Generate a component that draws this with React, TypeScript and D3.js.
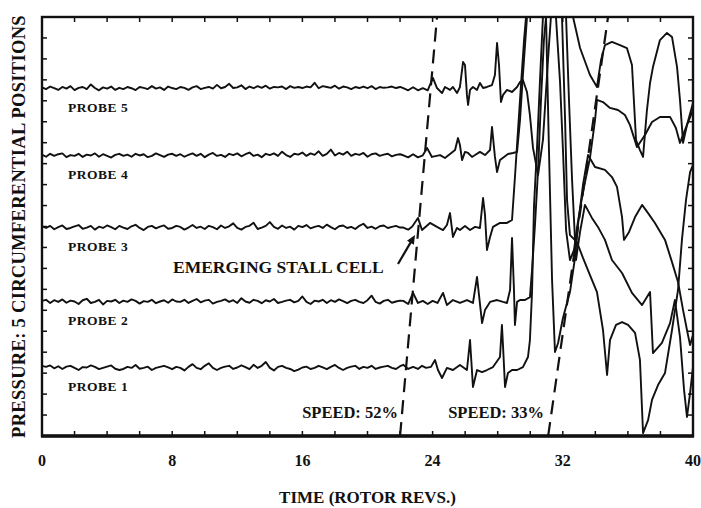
import { useRef, useEffect } from "react";
import * as d3 from "d3";

// probe labels, bottom to top, and their mean pressure level (arbitrary units)
const probeNames = ["PROBE 1", "PROBE 2", "PROBE 3", "PROBE 4", "PROBE 5"];
const baselines = [3.25, 6.4, 9.93, 13.37, 16.56];
const xTicks = [0, 8, 16, 24, 32, 40];
const NOISE_END = 22; // revs covered by the quiet (pre-stall) samples

// quiet part: deviation from baseline, evenly sampled over 0..22 revs
const noiseP1 = [0.1,0.05,0.12,-0.02,0.08,-0.05,0.06,0.1,0,-0.1,0.04,0.02,0.12,0.05,-0.06,0,0.06,0.12,-0.04,-0.1,-0.05,0.05,0,0.14,-0.04,0,0.06,-0.1,0,0.05,0.1,0.02,-0.06,0.05,0,-0.12,0.05,0.18,0,-0.06,0.1,0.22,0,-0.1,0,0.06,0.1,-0.05,0.02,0.12,0.04,-0.06,0.15,0,0.1,0.28,0,-0.12,0.05,0.1,0,-0.05,-0.15,-0.08,0.02,0.06,-0.05,0,0.1,0.02,-0.06,0.05,0.14,0,-0.1,0,0.06,0.1,-0.05,0.05,0,0.1,-0.05,0.02,0.06,0.1,0,-0.05,0.08];
const noiseP2 = [0.05,0.1,-0.05,0.08,0,0.12,-0.04,0.06,0.02,-0.1,0.08,0.15,-0.05,0,0.1,-0.12,0.05,0.02,0.1,-0.05,0.06,0,0.12,0.05,-0.08,0.04,0,0.1,-0.06,0.02,0.08,-0.04,0.12,0.02,0,0.1,-0.05,0.05,0.14,-0.02,0.06,0.1,-0.08,0,0.05,0.12,0,0.08,-0.05,0.18,0.02,-0.04,0.1,0.05,-0.06,0.08,0.02,0.14,-0.05,0,0.06,0.1,-0.02,0.05,0.26,0,-0.1,0.06,0.02,0.1,-0.05,0.08,0,0.12,0.04,-0.06,0.05,0.1,0,-0.05,0.08,0.3,0,-0.08,0.05,0.1,-0.04,0.02,0.06];
const noiseP3 = [0.08,0,0.1,-0.06,0.04,0.12,-0.05,0,0.08,0.14,-0.04,0.02,0.1,-0.08,0.06,0,0.12,0.04,-0.06,0.1,0.02,-0.05,0.08,0.15,0,-0.1,0.05,0.1,-0.02,0.06,0.12,-0.04,0,0.1,0.05,-0.08,0.02,0.14,0,0.06,-0.05,0.1,0.04,-0.06,0.12,0,0.08,0.22,0,-0.08,0.05,0.1,0.25,-0.05,0.02,0.1,0.28,0.05,-0.04,0.12,0,0.06,-0.08,0.1,0.04,0.14,-0.02,0.05,0.1,0,0.16,0.04,-0.06,0.08,0.12,0,0.05,-0.05,0.1,0.2,0,0.06,-0.04,0.08,0.12,0,0.05,0.1,0.02];
const noiseP4 = [0.06,-0.04,0.1,0,0.08,0.12,-0.06,0.04,0,0.1,-0.05,0.06,0.02,0.12,-0.04,0.08,0,-0.08,0.05,0.1,0,0.06,-0.04,0.1,0.02,0.08,-0.06,0,0.12,0.04,-0.05,0.06,0.1,0,0.08,-0.04,0.05,0.12,0,0.1,-0.06,0.06,0.14,0,0.05,-0.05,0.1,0.04,0.12,-0.02,0.08,0.16,0,0.06,-0.06,0.1,0.04,0.12,0,0.2,0.04,-0.05,0.1,0.06,0.16,0,0.12,0.05,0.22,0,0.1,0.3,0.02,0.14,0.06,0.2,0,0.1,0.05,0.14,-0.04,0.08,0.12,0,0.06,0.1,-0.02,0.05,0.08];
const noiseP5 = [0.08,0,0.12,0.05,-0.04,0.1,0.02,0.14,-0.05,0.06,0.1,0,0.22,0.05,-0.06,0.08,0.02,0.12,-0.04,0.06,0,0.1,0.04,-0.05,0.1,0.06,0,0.14,0.02,0.08,-0.04,0.12,0.05,0,0.1,0.06,-0.04,0.08,0.14,0,0.06,0.1,0.02,0.2,0.04,0.1,0.25,0.05,0.08,0.18,0,0.12,0.04,0.14,0.06,0.16,0.02,0.1,0.08,0.12,0,0.14,0.06,0.1,0.05,0.12,0.08,0.3,0.04,0.14,0.1,0.06,0.16,0.02,0.12,0.08,0,0.1,0.05,0.12,0.04,0.14,0,0.1,0.06,0.08,0.12,0.05,0.1];

// stall part: [revs, pressure]; values above 20 run off the top of the record
const stallP1: [number, number][] = [[22.2,3.4],[22.5,3.2],[22.8,3.3],[23.1,3.2],[23.35,3.35],[23.6,3.25],[23.9,3.3],[24.15,3.63],[24.33,3.15],[24.58,2.77],[24.88,3.25],[25.25,3.15],[25.68,3.39],[26.11,3.15],[26.3,4.58],[26.48,2.34],[26.73,3.15],[27.04,3.05],[27.34,3.15],[27.71,3.29],[28.14,3.77],[28.26,5.3],[28.33,4.25],[28.45,2.34],[28.63,3.01],[28.88,3.15],[29.19,3.15],[29.55,3.29],[29.86,3.77],[29.98,4.58],[30.11,6.87],[30.23,10.98],[30.41,13.65],[30.6,16.99],[30.78,20],[30.97,21.3],[31.83,21.3],[32.2,20],[32.38,16.04],[32.57,12.22],[32.81,8.4],[33.06,9.74],[33.36,11.03],[33.79,10.41],[34.16,9.98],[34.59,9.36],[35.02,8.4],[35.64,7.78],[36.25,6.83],[36.87,6.25],[37.36,6.87],[37.54,3.96],[38.09,4.44],[38.59,5.39],[38.89,6.49],[39.2,4.73],[39.45,2.2],[39.63,0.91],[39.82,2.05],[40,3.29]];
const stallP2: [number, number][] = [[22.2,6.45],[22.5,6.3],[22.8,6.83],[23.1,6.35],[23.4,6.45],[23.7,6.3],[24.0,6.45],[24.3,6.35],[24.64,6.83],[24.88,6.25],[25.25,6.49],[25.68,6.35],[26.11,6.49],[26.48,6.35],[26.73,7.59],[27.04,5.39],[27.22,6.01],[27.53,6.4],[27.96,6.49],[28.33,6.4],[28.57,6.35],[28.76,6.97],[28.88,9.45],[29.0,6.97],[29.06,5.3],[29.19,6.4],[29.37,6.49],[29.68,6.49],[29.98,6.63],[30.11,7.92],[30.29,10.07],[30.48,12.7],[30.66,16.04],[30.84,18.9],[30.97,20],[31.09,21.3],[31.71,21.3],[31.95,20],[32.14,15.08],[32.26,11.26],[32.44,9.59],[32.87,9.26],[33.24,8.5],[33.67,7.68],[34.1,6.87],[34.47,5.06],[34.72,2.91],[34.9,4.58],[35.27,5.3],[35.64,5.44],[36.01,5.3],[36.44,4.92],[36.74,3.63],[36.93,0.14],[37.24,0.76],[37.48,1.72],[37.85,2.43],[38.28,3.01],[38.71,5.06],[39.08,6.97],[39.32,9.36],[39.57,11.26],[39.82,12.6],[40,12.94]];
const stallP3: [number, number][] = [[22.2,9.95],[22.5,9.85],[22.75,10.0],[23.1,10.41],[23.35,9.83],[23.84,10.17],[24.27,9.98],[24.64,9.83],[24.88,10.07],[25.07,10.64],[25.25,9.5],[25.5,9.93],[25.68,9.83],[25.99,10.02],[26.3,9.83],[26.61,9.98],[26.91,9.93],[27.1,11.36],[27.22,10.55],[27.34,8.88],[27.53,9.5],[27.71,9.98],[28.14,10.17],[28.57,10.17],[28.88,10.31],[29.06,12.36],[29.25,14.61],[29.43,16.75],[29.62,18.9],[29.74,20],[29.86,21.3],[30.78,21.3],[30.97,20],[31.15,13.65],[31.34,7.45],[31.52,4.01],[31.71,4.44],[32.01,5.63],[32.44,6.87],[32.75,8.5],[32.93,10.07],[33.24,11.98],[33.55,13.41],[33.98,12.84],[34.59,12.7],[35.02,12.36],[35.33,11.89],[35.64,10.45],[35.76,9.36],[36.07,9.74],[36.44,10.45],[36.87,11.03],[37.24,10.64],[37.66,10.17],[38.28,9.36],[38.71,8.3],[39.08,7.35],[39.39,6.01],[39.63,5.06],[39.82,4.34],[40,4.82]];
const stallP4: [number, number][] = [[22.2,13.4],[22.5,13.3],[22.8,13.45],[23.1,13.3],[23.4,13.4],[23.66,13.75],[23.96,13.32],[24.46,13.41],[24.76,13.27],[25.07,13.46],[25.38,13.65],[25.56,14.22],[25.68,13.89],[25.81,13.17],[25.99,13.56],[26.18,13.51],[26.42,13.32],[26.61,13.41],[26.91,13.56],[27.22,13.41],[27.53,13.65],[27.65,14.75],[27.83,13.32],[27.96,12.6],[28.14,13.17],[28.39,13.32],[28.63,13.46],[28.94,13.51],[29.19,13.56],[29.37,15.08],[29.55,17.23],[29.8,20],[29.92,21.3],[31.4,21.3],[31.58,20],[31.83,16.9],[32.01,13.65],[32.2,9.83],[32.44,8.4],[32.69,8.88],[32.87,9.93],[33.24,11.65],[33.67,13.27],[33.98,15.08],[34.1,16.04],[34.47,15.94],[34.9,15.66],[35.39,15.56],[35.82,15.32],[36.13,14.84],[36.56,13.79],[37.05,14.37],[37.48,14.99],[37.97,15.23],[38.59,15.23],[38.95,14.7],[39.2,13.99],[39.51,14.61],[40,15.56]];
const stallP5: [number, number][] = [[22.2,16.6],[22.5,16.5],[22.8,16.65],[23.1,16.5],[23.4,16.6],[23.7,16.5],[24.02,17.09],[24.27,16.61],[24.58,16.37],[24.76,16.66],[25.07,16.52],[25.25,16.66],[25.5,16.37],[25.68,16.66],[25.87,17.85],[25.99,17.71],[26.11,16.28],[26.18,15.8],[26.3,16.52],[26.48,16.66],[26.73,16.52],[26.91,16.85],[27.1,16.61],[27.34,16.66],[27.65,16.75],[27.83,17.23],[27.96,18.76],[28.08,17.71],[28.2,15.94],[28.33,16.28],[28.57,16.52],[28.88,16.42],[29.19,16.66],[29.37,16.9],[29.55,16.99],[29.8,16.42],[29.98,15.32],[30.17,13.75],[30.48,12.46],[30.78,14.13],[31.09,17.95],[31.27,20],[31.4,21.3],[32.44,21.3],[32.63,20],[33.06,18.52],[33.67,17.23],[34.1,16.66],[34.35,17.95],[34.59,18.66],[35.02,18.81],[35.51,18.66],[35.94,18.52],[36.25,17.71],[36.5,14.13],[36.74,13.65],[36.93,13.32],[37.17,15.56],[37.36,16.85],[37.54,17.61],[37.97,18.9],[38.4,19.24],[38.71,19.05],[39.02,17.61],[39.2,16.04],[39.39,13.99],[39.63,14.84],[40,15.89]];

const noiseSets = [noiseP1, noiseP2, noiseP3, noiseP4, noiseP5];
const stallSets = [stallP1, stallP2, stallP3, stallP4, stallP5];

// dashed fronts [revs, pressure] at bottom and top of the record
const stallFront: [number, number][] = [[22.0, 0], [24.27, 20]];
const speedFront: [number, number][] = [[31.1, 0], [34.78, 20]];

const FONT = "'Liberation Serif', 'DejaVu Serif', serif";

export default function App() {
  const svgRef = useRef<SVGSVGElement | null>(null);

  useEffect(() => {
    const width = 701;
    const height = 508;
    const margin = { top: 17, right: 8, bottom: 72, left: 42 };

    const svg = d3.select(svgRef.current).attr("width", width).attr("height", height);
    svg.selectAll("*").remove();

    const x = d3.scaleLinear().domain([0, 40]).range([margin.left, width - margin.right]);
    const y = d3.scaleLinear().domain([0, 20]).range([height - margin.bottom, margin.top]);

    svg.append("defs").append("clipPath").attr("id", "plotClip")
      .append("rect")
      .attr("x", x(0)).attr("y", y(20))
      .attr("width", x(40) - x(0)).attr("height", y(0) - y(20));

    // minor ticks on all four sides
    const tickG = svg.append("g").attr("stroke", "#111").attr("stroke-width", 1.5);
    d3.range(0, 41, 2).forEach((t) => {
      tickG.append("line").attr("x1", x(t)).attr("x2", x(t)).attr("y1", y(0)).attr("y2", y(0) - 5);
      tickG.append("line").attr("x1", x(t)).attr("x2", x(t)).attr("y1", y(20)).attr("y2", y(20) + 5);
    });
    d3.range(0, 21, 1).forEach((t) => {
      tickG.append("line").attr("x1", x(0)).attr("x2", x(0) + 5).attr("y1", y(t)).attr("y2", y(t));
      tickG.append("line").attr("x1", x(40)).attr("x2", x(40) - 5).attr("y1", y(t)).attr("y2", y(t));
    });

    // traces
    const line = d3.line<[number, number]>().x((d) => x(d[0])).y((d) => y(d[1]));
    const traces = baselines.map((b, k) => {
      const n = noiseSets[k].length;
      const quiet: [number, number][] = noiseSets[k].map((d, i) => [(i * NOISE_END) / (n - 1), b + d]);
      return quiet.concat(stallSets[k]);
    });
    svg.append("g").attr("clip-path", "url(#plotClip)")
      .selectAll("path.trace")
      .data(traces)
      .join("path")
      .attr("class", "trace")
      .attr("d", (d) => line(d))
      .attr("fill", "none")
      .attr("stroke", "#111")
      .attr("stroke-width", 1.9)
      .attr("stroke-linejoin", "round");

    // dashed fronts
    svg.append("g").attr("clip-path", "url(#plotClip)")
      .selectAll("path.front")
      .data([stallFront, speedFront])
      .join("path")
      .attr("class", "front")
      .attr("d", (d) => line(d))
      .attr("fill", "none")
      .attr("stroke", "#111")
      .attr("stroke-width", 2.2)
      .attr("stroke-dasharray", "14,8");

    // frame
    svg.append("rect")
      .attr("x", x(0)).attr("y", y(20))
      .attr("width", x(40) - x(0)).attr("height", y(0) - y(20))
      .attr("fill", "none").attr("stroke", "#111").attr("stroke-width", 2.4);
    svg.append("line")
      .attr("x1", x(0) - 1).attr("x2", x(40) + 1).attr("y1", y(0)).attr("y2", y(0))
      .attr("stroke", "#111").attr("stroke-width", 3.4);

    // probe labels
    svg.append("g").selectAll("text")
      .data(probeNames)
      .join("text")
      .attr("x", x(1.6))
      .attr("y", (_, i) => y(baselines[i]) + 23)
      .attr("font-family", FONT).attr("font-weight", "bold")
      .attr("font-size", 13.5).attr("letter-spacing", 0.5)
      .attr("fill", "#111")
      .text((d) => d);

    // x tick labels
    svg.append("g").selectAll("text")
      .data(xTicks)
      .join("text")
      .attr("x", (d) => x(d))
      .attr("y", 466)
      .attr("text-anchor", "middle")
      .attr("font-family", FONT).attr("font-weight", "bold").attr("font-size", 16)
      .attr("fill", "#111")
      .text((d) => String(d));

    // axis titles
    svg.append("text")
      .attr("x", (x(0) + x(40)) / 2).attr("y", 503)
      .attr("text-anchor", "middle")
      .attr("font-family", FONT).attr("font-weight", "bold").attr("font-size", 17)
      .attr("fill", "#111")
      .text("TIME (ROTOR REVS.)");
    svg.append("text")
      .attr("transform", `translate(25,${(y(0) + y(20)) / 2}) rotate(-90)`)
      .attr("text-anchor", "middle")
      .attr("font-family", FONT).attr("font-weight", "bold").attr("font-size", 18.5)
      .attr("letter-spacing", 0.3)
      .attr("fill", "#111")
      .text("PRESSURE: 5 CIRCUMFERENTIAL POSITIONS");

    // annotations
    const ann = svg.append("g").attr("font-family", FONT).attr("font-weight", "bold").attr("fill", "#111");
    ann.append("text").attr("x", 173).attr("y", 273).attr("font-size", 17.5).text("EMERGING STALL CELL");
    ann.append("text").attr("x", 398).attr("y", 418).attr("text-anchor", "end").attr("font-size", 16.5).text("SPEED: 52%");
    ann.append("text").attr("x", 544).attr("y", 418).attr("text-anchor", "end").attr("font-size", 16.5).text("SPEED: 33%");

    // arrow to the emerging cell on probe 3
    const ax0 = 398, ay0 = 264, ax1 = 415, ay1 = 235;
    const ang = Math.atan2(ay1 - ay0, ax1 - ax0);
    const hl = 9, hw = 4;
    svg.append("line")
      .attr("x1", ax0).attr("y1", ay0)
      .attr("x2", ax1 - Math.cos(ang) * hl * 0.6).attr("y2", ay1 - Math.sin(ang) * hl * 0.6)
      .attr("stroke", "#111").attr("stroke-width", 2.2);
    const bx = ax1 - Math.cos(ang) * hl, by = ay1 - Math.sin(ang) * hl;
    svg.append("polygon")
      .attr("points", [
        [ax1, ay1],
        [bx + Math.sin(ang) * hw, by - Math.cos(ang) * hw],
        [bx - Math.sin(ang) * hw, by + Math.cos(ang) * hw],
      ].map((p) => p.join(",")).join(" "))
      .attr("fill", "#111");
  }, []);

  return (
    <svg ref={svgRef} style={{ position: "absolute", left: 0, top: 0, background: "#fff" }} />
  );
}
